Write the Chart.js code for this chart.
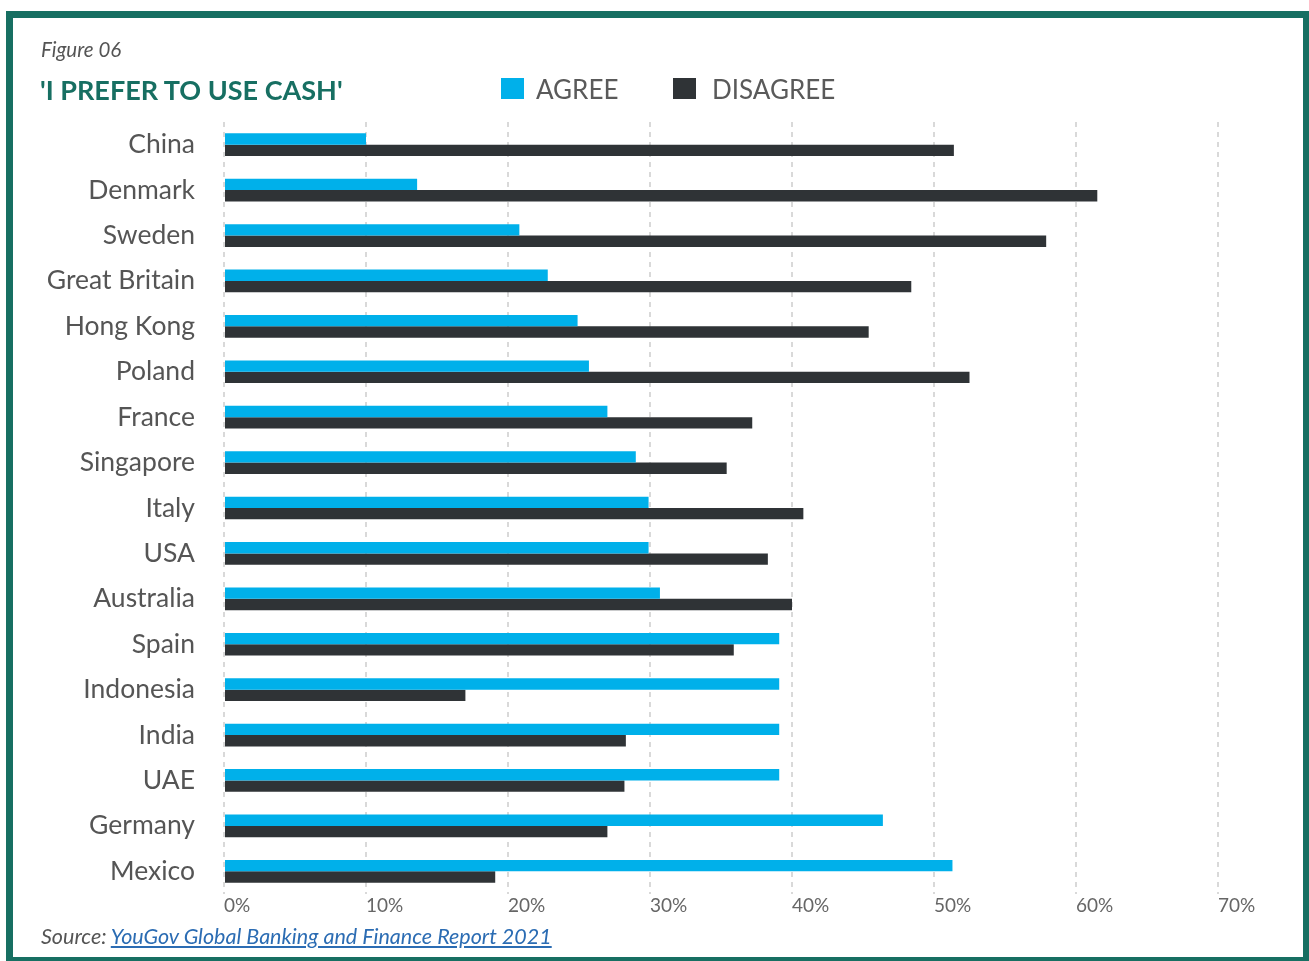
<!DOCTYPE html>
<html>
<head>
<meta charset="utf-8">
<script src="https://cdn.jsdelivr.net/npm/chart.js@4.4.1/dist/chart.umd.min.js"></script>
<style>
  html, body { margin: 0; padding: 0; background: #fff; }
  #wrap { position: relative; width: 1309px; height: 961px; overflow: hidden; background: #fff; }
  #frame { position: absolute; left: 6px; top: 11px; width: 1290px; height: 939px; border: 7px solid #176f62; }
  canvas { position: absolute; left: 0; top: 0; }
  .txt { position: absolute; font-family: Lato, "Noto Sans", sans-serif; white-space: nowrap; }
  #fig { left: 41px; top: 37px; font-size: 20.5px; font-style: italic; color: #555; }
  #title { left: 40px; top: 73px; font-size: 27px; font-weight: bold; color: #176f62; }
  .leg { position: absolute; top: 73px; font-family: Lato, "Noto Sans", sans-serif; font-size: 26px; color: #5a5a5a; }
  .sw { position: absolute; top: 78px; width: 23px; height: 21px; }
  #source { left: 41px; top: 923px; font-size: 21.5px; font-style: italic; color: #555; }
  #source a { color: #2b6cb3; text-decoration: underline; }
</style>
</head>
<body>
<div id="wrap">
  <div id="frame"></div>
  <canvas id="c" width="1309" height="961"></canvas>
  <div class="txt" id="fig">Figure 06</div>
  <div class="txt" id="title">'I PREFER TO USE CASH'</div>
  <div class="sw" style="left:501px;background:#00b0ea"></div>
  <div class="leg" style="left:536px">AGREE</div>
  <div class="sw" style="left:673px;background:#2f3336"></div>
  <div class="leg" style="left:712px">DISAGREE</div>
  <div class="txt" id="source">Source: <a href="#">YouGov Global Banking and Finance Report 2021</a></div>
</div>
<script>
const countries = ["China","Denmark","Sweden","Great Britain","Hong Kong","Poland","France","Singapore","Italy","USA","Australia","Spain","Indonesia","India","UAE","Germany","Mexico"];
const agree    = [10.0, 13.6, 20.8, 22.8, 24.9, 25.7, 27.0, 29.0, 29.9, 29.9, 30.7, 39.1, 39.1, 39.1, 39.1, 46.4, 51.3];
const disagree = [51.4, 61.5, 57.9, 48.4, 45.4, 52.5, 37.2, 35.4, 40.8, 38.3, 40.0, 35.9, 17.0, 28.3, 28.2, 27.0, 19.1];
const xTicks = [0, 10, 20, 30, 40, 50, 60, 70];

new Chart(document.getElementById('c'), {
  type: 'bar',
  data: {
    labels: countries,
    datasets: [
      { label: 'AGREE', data: agree, backgroundColor: '#00b0ea', categoryPercentage: 0.5, barPercentage: 1.0 },
      { label: 'DISAGREE', data: disagree, backgroundColor: '#2f3336', categoryPercentage: 0.5, barPercentage: 1.0 }
    ]
  },
  options: {
    indexAxis: 'y',
    responsive: false,
    devicePixelRatio: 1,
    animation: false,
    layout: { padding: { top: 122, bottom: 37, left: 0, right: 91 } },
    plugins: { legend: { display: false }, tooltip: { enabled: false } },
    scales: {
      x: {
        min: xTicks[0], max: xTicks[xTicks.length - 1],
        afterBuildTicks: (s) => { s.ticks = xTicks.map(v => ({ value: v })); },
        afterFit: (s) => { s.height = 30; },
        grid: { color: '#d9d9d9', lineWidth: 2, drawTicks: false },
        border: { display: false, dash: [5, 5] },
        ticks: {
          align: 'start', padding: 0, color: '#666',
          font: { family: 'Lato', size: 19 },
          callback: (v) => v + '%'
        }
      },
      y: {
        afterFit: (s) => { s.width = 224; },
        grid: { display: false, drawTicks: false },
        border: { display: false },
        ticks: { padding: 29, color: '#555', font: { family: 'Lato', size: 26.5 } }
      }
    }
  }
});
</script>
</body>
</html>
